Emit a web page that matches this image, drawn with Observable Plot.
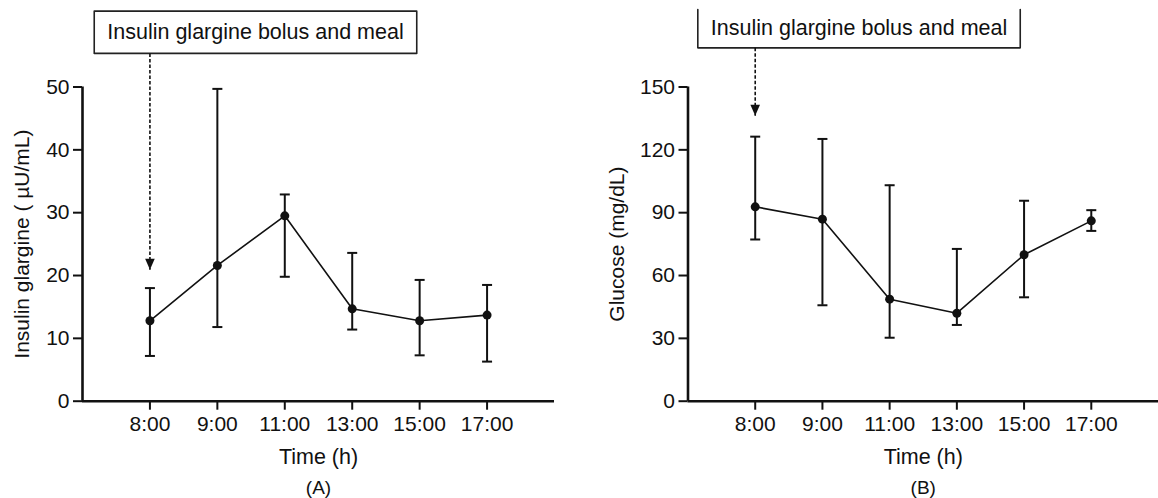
<!DOCTYPE html>
<html>
<head>
<meta charset="utf-8">
<script src="https://cdn.jsdelivr.net/npm/d3@7"></script>
<script src="https://cdn.jsdelivr.net/npm/@observablehq/plot@0.6"></script>
<style>
  html, body { margin: 0; padding: 0; background: #fff; }
  #wrap { display: flex; flex-direction: row; width: 1158px; height: 498px; overflow: hidden; }
  #wrap svg { flex: none; }
</style>
</head>
<body>
<div id="wrap"></div>
<script>
// ---- data ----
const times = ["8:00", "9:00", "11:00", "13:00", "15:00", "17:00"];

const insulinMean = [12.8, 21.6, 29.5, 14.7, 12.8, 13.7];
const insulinLow  = [7.2, 11.8, 19.8, 11.4, 7.3, 6.3];
const insulinHigh = [18.0, 49.7, 32.9, 23.6, 19.3, 18.5];
const insulinTicks = [0, 10, 20, 30, 40, 50];

const glucoseMean = [92.8, 86.9, 48.7, 42.0, 69.9, 86.1];
const glucoseLow  = [77.2, 45.8, 30.3, 36.4, 49.6, 81.3];
const glucoseHigh = [126.3, 125.2, 103.1, 72.7, 95.7, 91.2];
const glucoseTicks = [0, 30, 60, 90, 120, 150];

const annotationText = "Insulin glargine bolus and meal";
const xLabel = "Time (h)";
const panelLabels = ["(A)", "(B)"];
const yLabels = ["Insulin glargine ( \u00b5U/mL)", "Glucose (mg/dL)"];

// ---- helpers ----
const FONT = "'Liberation Sans', Arial, Helvetica, sans-serif";
const capSymbol = {
  draw(ctx, size) { const r = Math.sqrt(size / Math.PI); ctx.moveTo(-r, 0); ctx.lineTo(r, 0); }
};
const headSymbol = {
  draw(ctx, size) {
    const r = Math.sqrt(size / Math.PI);
    ctx.moveTo(0, 0); ctx.lineTo(-r, -2.3 * r); ctx.lineTo(r, -2.3 * r); ctx.closePath();
  }
};

function panel(opts) {
  const {means, lows, highs, ticks, yLabel, panelLabel, marginLeft, marginRight, yLabelDx,
         ann, openTop} = opts;
  const rows = times.map((t, i) => ({i, t, mean: means[i], lo: lows[i], hi: highs[i]}));
  const yMax = ticks[ticks.length - 1];
  const boxSides = openTop
    ? [{x: ann.x1, y: ann.top}, {x: ann.x1, y: ann.bottom}, {x: ann.x2, y: ann.bottom}, {x: ann.x2, y: ann.top}]
    : [{x: ann.x1, y: ann.top}, {x: ann.x1, y: ann.bottom}, {x: ann.x2, y: ann.bottom}, {x: ann.x2, y: ann.top}, {x: ann.x1, y: ann.top}];
  return Plot.plot({
    width: 579,
    height: 498,
    marginLeft,
    marginRight,
    marginTop: 86.5,
    marginBottom: 97.3,
    style: {fontFamily: FONT, fontSize: "21px", color: "#111", background: "white"},
    x: {type: "linear", domain: [-1, 6]},
    y: {domain: [0, yMax]},
    marks: [
      Plot.axisX({ticks: d3.range(times.length), tickFormat: (i) => times[i], tickSize: 9, tickPadding: 6,
                  strokeWidth: 2, fontSize: 21, label: null}),
      Plot.axisY({ticks, tickSize: 9, tickPadding: 4, strokeWidth: 2, fontSize: 21, label: null}),
      Plot.ruleY([0], {x1: -1, x2: 6, strokeWidth: 2.6, stroke: "#111"}),
      Plot.ruleX([-1], {y1: 0, y2: yMax, strokeWidth: 2.6, stroke: "#111"}),
      // error bars
      Plot.ruleX(rows, {x: "i", y1: "lo", y2: "hi", stroke: "#111", strokeWidth: 2}),
      Plot.dot(rows, {x: "i", y: "hi", symbol: capSymbol, r: 5, fill: "none", stroke: "#111", strokeWidth: 2}),
      Plot.dot(rows, {x: "i", y: "lo", symbol: capSymbol, r: 5, fill: "none", stroke: "#111", strokeWidth: 2}),
      // mean line and points
      Plot.line(rows, {x: "i", y: "mean", stroke: "#111", strokeWidth: 1.6}),
      Plot.dot(rows, {x: "i", y: "mean", r: 4.5, fill: "#111", stroke: "none"}),
      // annotation
      Plot.line(boxSides, {x: "x", y: "y", stroke: "#222", strokeWidth: 1.6}),
      Plot.text([annotationText], {x: (ann.x1 + ann.x2) / 2, y: ann.textY, fontSize: 21.5, fill: "#111",
                                   textAnchor: "middle", lineAnchor: "middle"}),
      Plot.link([0], {x1: 0, x2: 0, y1: ann.bottom, y2: ann.tip, stroke: "#111", strokeWidth: 1.6,
                      strokeDasharray: "3.5,2"}),
      Plot.dot([0], {x: 0, y: ann.tip, symbol: headSymbol, r: 4.8, fill: "#111", stroke: "none"}),
      // labels
      Plot.text([xLabel], {frameAnchor: "bottom", dy: 56, fontSize: 21.5, fill: "#111",
                           textAnchor: "middle", lineAnchor: "middle"}),
      Plot.text([panelLabel], {frameAnchor: "bottom", dy: 86.5, fontSize: 19, fill: "#111",
                               textAnchor: "middle", lineAnchor: "middle"}),
      Plot.text([yLabel], {frameAnchor: "left", rotate: -90, dx: yLabelDx, fontSize: 21, fill: "#111",
                           textAnchor: "middle", lineAnchor: "middle"})
    ]
  });
}

const wrap = document.getElementById("wrap");
wrap.append(panel({
  means: insulinMean, lows: insulinLow, highs: insulinHigh, ticks: insulinTicks,
  yLabel: yLabels[0], panelLabel: panelLabels[0],
  marginLeft: 82, marginRight: 25, yLabelDx: -60,
  ann: {x1: -0.826, x2: 3.957, top: 62.07, bottom: 55.35, textY: 58.7, tip: 20.9},
  openTop: false
}));
wrap.append(panel({
  means: glucoseMean, lows: glucoseLow, highs: glucoseHigh, ticks: glucoseTicks,
  yLabel: yLabels[1], panelLabel: panelLabels[1],
  marginLeft: 108.5, marginRight: 0, yLabelDx: -70.5,
  ann: {x1: -0.854, x2: 3.943, top: 187.0, bottom: 168.7, textY: 178.3, tip: 136.3},
  openTop: true
}));
</script>
</body>
</html>
